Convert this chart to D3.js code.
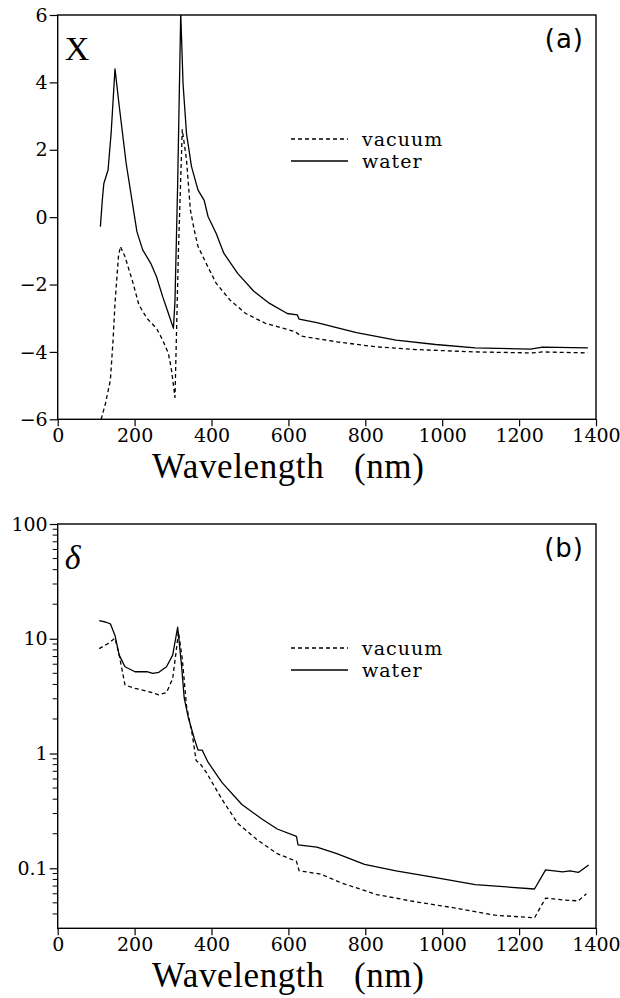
<!DOCTYPE html>
<html><head><meta charset="utf-8">
<script src="https://cdn.jsdelivr.net/npm/d3@7"></script>
<style>
html,body{margin:0;padding:0;background:#fff;}
svg{display:block;}
.tk text{font-family:'DejaVu Serif',serif;font-size:19px;fill:#000;}
.serif{font-family:'Liberation Serif','Times New Roman',serif;}
.dserif{font-family:'DejaVu Serif',serif;}
.sans{font-family:'DejaVu Sans',sans-serif;}
</style></head>
<body>
<script>
// ---- data ----
const xTicks = [0,200,400,600,800,1000,1200,1400];
const topYTicks = [-6,-4,-2,0,2,4,6];
const botYTicks = [0.1,1,10,100];
const botYTickLabels = ["0.1","1","10","100"];
const seriesNames = ["vacuum","water"];

// panel (a): X vs wavelength
const aWaterL = [111,116,120,131,139,149,160,178,196,206,221,242,257,273,288,301,305,312,320,326,335,348,365,381,391,412,432,468,510,551,597,623,628,674,777,880,983,1086,1230,1261,1379];
const aWaterV = [-0.28,0.5,1.0,1.4,2.5,4.4,3.3,1.6,0.3,-0.43,-0.97,-1.37,-1.77,-2.36,-2.86,-3.3,-2.5,1.0,6.05,3.96,2.48,1.5,0.8,0.5,0.02,-0.48,-1.07,-1.67,-2.2,-2.56,-2.86,-2.9,-3.03,-3.13,-3.43,-3.65,-3.78,-3.88,-3.92,-3.86,-3.88];
const aVacL = [113,124,137,144,149,158,163,175,196,211,232,257,273,288,296,305,314,324,335,345,355,365,386,412,448,489,540,618,633,726,829,932,1086,1235,1261,1379];
const aVacV = [-6.0,-5.54,-4.84,-3.65,-2.56,-1.17,-0.87,-1.17,-1.96,-2.6,-3.0,-3.3,-3.65,-4.05,-4.54,-5.35,-1.0,2.6,1.7,0.22,-0.38,-0.87,-1.37,-1.96,-2.46,-2.86,-3.15,-3.4,-3.53,-3.7,-3.85,-3.93,-4.0,-4.03,-4.0,-4.03];

// panel (b): delta vs wavelength (log)
const bWaterL = [108,124,137,149,160,175,201,232,247,263,283,299,312,322,329,340,355,365,376,391,427,479,530,571,621,625,674,726,798,880,983,1086,1240,1269,1313,1333,1354,1381];
const bWaterV = [14.4,14.0,13.5,10.7,7.2,5.7,5.16,5.16,5.0,5.1,5.7,7.2,12.6,5.9,3.05,2.04,1.36,1.07,1.07,0.84,0.56,0.36,0.27,0.22,0.19,0.16,0.153,0.134,0.108,0.095,0.083,0.072,0.066,0.097,0.093,0.095,0.092,0.107];
const bVacL = [108,129,149,160,175,201,232,263,283,299,309,314,324,335,350,360,371,386,427,468,520,571,621,628,684,736,829,932,1035,1138,1240,1269,1313,1354,1375];
const bVacV = [8.2,9.0,10.1,7.2,3.96,3.7,3.5,3.25,3.4,4.5,8.2,11.5,6.7,2.6,1.46,0.87,0.81,0.69,0.4,0.247,0.176,0.134,0.115,0.095,0.089,0.075,0.059,0.051,0.045,0.039,0.037,0.055,0.053,0.052,0.060];

// ---- drawing ----
const W = 620, H = 998;
const svg = d3.select("body").append("svg").attr("width", W).attr("height", H);

const x = d3.scaleLinear().domain([0,1400]).range([57.7, 596]);
const yA = d3.scaleLinear().domain([-6,6]).range([419.3, 15]);
const yB = d3.scaleLog().domain([0.03,100]).range([928.3, 524]);

function zip(L, V){ return L.map((l,i)=>[l,V[i]]); }

function panel(id, y, isLog, curves, yTickVals, yTickLabels, symbol, italic, tag){
  const g = svg.append("g");
  const [x0,x1] = x.range();
  const [yb,yt] = y.range();
  g.append("clipPath").attr("id","clip"+id).append("rect")
    .attr("x",x0).attr("y",yt).attr("width",x1-x0).attr("height",yb-yt);

  // x axis
  const xa = g.append("g").attr("class","tk").attr("transform",`translate(0,${yb})`)
    .call(d3.axisBottom(x).tickValues(xTicks).tickSize(7).tickSizeOuter(0).tickPadding(2).tickFormat(d3.format("d")));
  xa.attr("font-family",null).attr("font-size",null);
  xa.select(".domain").remove();
  xa.selectAll("line").attr("stroke","#000").attr("stroke-width",1.2);

  // y axis
  const ax = d3.axisLeft(y).tickValues(yTickVals).tickSize(8).tickSizeOuter(0).tickPadding(2)
    .tickFormat(isLog ? ((d,i)=>yTickLabels[i]) : (d=> (d<0? "\u2212"+Math.abs(d) : String(d))));
  const ya = g.append("g").attr("class","tk").attr("transform",`translate(${x0},0)`).call(ax);
  ya.attr("font-family",null).attr("font-size",null);
  ya.select(".domain").remove();
  ya.selectAll("line").attr("stroke","#000").attr("stroke-width",1.2);
  if(isLog){
    const minors = [];
    [0.01,0.1,1,10].forEach(dec=>{ for(let k=2;k<=9;k++){ const v=dec*k; if(v>0.03 && v<100) minors.push(v);} });
    g.append("g").selectAll("line").data(minors).join("line")
      .attr("x1",x0-5).attr("x2",x0).attr("y1",d=>y(d)).attr("y2",d=>y(d))
      .attr("stroke","#000").attr("stroke-width",1);
  }

  // frame
  g.append("rect").attr("x",x0).attr("y",yt).attr("width",x1-x0).attr("height",yb-yt)
    .attr("fill","none").attr("stroke","#000").attr("stroke-width",1.4);

  // curves
  const line = d3.line().x(d=>x(d[0])).y(d=>y(d[1]));
  const cg = g.append("g").attr("clip-path",`url(#clip${id})`);
  curves.forEach(c=>{
    cg.append("path").datum(c.data).attr("d",line)
      .attr("fill","none").attr("stroke","#000").attr("stroke-width",1.3)
      .attr("stroke-linejoin","round")
      .attr("stroke-dasharray",c.dash);
  });

  // symbol label
  g.append("text").attr("class","serif").attr("x",x0+7).attr("y",yt+45).text(symbol)
    .style("font-size","34px").style("font-style",italic?"italic":"normal").style("fill","#000");

  // panel tag
  g.append("text").attr("class","sans").attr("x",584).attr("y",yt+33).attr("text-anchor","end").text(tag)
    .style("font-size","26px").style("letter-spacing","1px").style("fill","#000");

  // legend
  const ly = yt + 124;
  curves.forEach((c,i)=>{
    const yy = ly + i*22;
    g.append("line").attr("x1",291).attr("x2",348).attr("y1",yy).attr("y2",yy)
      .attr("stroke","#000").attr("stroke-width",1.3).attr("stroke-dasharray",c.dash);
    g.append("text").attr("class","dserif").attr("x",362).attr("y",yy+7).text(seriesNames[i])
      .style("font-size","19px").style("letter-spacing","1px").style("fill","#000");
  });

  // x label
  const xl = g.append("text").attr("class","serif").attr("x",152).attr("y",yb+59)
    .style("font-size","35px").style("letter-spacing","0.6px").style("fill","#000");
  xl.append("tspan").text("Wavelength");
  xl.append("tspan").attr("x",354).text("(nm)");
}

panel("A", yA, false,
  [{data:zip(aVacL,aVacV), dash:"4,3"},{data:zip(aWaterL,aWaterV), dash:null}],
  topYTicks, null, "X", false, "(a)");

panel("B", yB, true,
  [{data:zip(bVacL,bVacV), dash:"4,3"},{data:zip(bWaterL,bWaterV), dash:null}],
  botYTicks, botYTickLabels, "\u03B4", true, "(b)");
</script>
</body></html>
